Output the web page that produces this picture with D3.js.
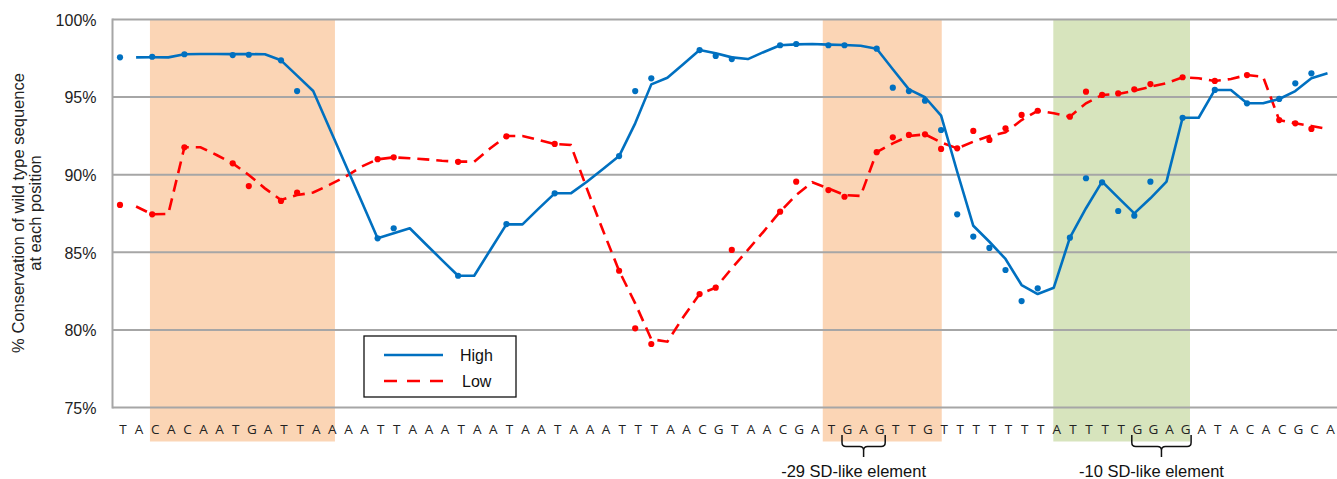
<!DOCTYPE html>
<html><head><meta charset="utf-8">
<script src="https://cdn.jsdelivr.net/npm/d3@7"></script>
<style>body{margin:0;background:#fff;} svg{display:block;}</style>
</head><body>
<svg id="chart" width="1337" height="479"></svg>
<script>
// ---------- DATA ----------
const bases = ["T","A","C","A","C","A","A","T","G","A","T","T","A","A",
  "A","A","T","T","A","A","A","T","A","A","T",
  "A","A","T","A","A","A","T","T","T","A","A","C","G","T","A","A","C","G","A","T","G","A","G","T","T",
  "G","T","T","T","T","T","T","T","A","T","T","T","T","G","G","A","G","A","T","A","C","A","C","G","C","A"];

const yTicks = [75, 80, 85, 90, 95, 100];

// smoothed lines (value at each base position, null = no line)
const highLine = [null,97.56,97.57,97.56,97.76,97.78,97.78,97.77,97.77,97.76,97.37,96.38,95.39,93.02,90.66,88.29,
  85.90,86.22,86.55,85.52,84.50,83.49,83.49,85.15,86.80,86.80,87.81,88.80,88.80,89.55,90.37,91.20,93.31,95.82,
  96.25,97.13,98.03,97.82,97.56,97.45,97.91,98.34,98.40,98.42,98.38,98.36,98.31,98.12,96.79,95.50,94.99,93.80,
  90.19,86.71,85.68,84.57,82.89,82.31,82.72,85.94,87.84,89.55,88.52,87.51,88.48,89.55,93.67,93.67,95.46,95.46,
  94.60,94.60,94.88,95.39,96.21,96.53];
const lowLine = [null,87.95,87.45,87.47,91.77,91.77,91.27,90.73,89.98,89.12,88.37,88.69,88.85,89.34,89.87,90.52,
  90.99,91.12,91.06,90.99,90.90,90.84,90.84,91.70,92.49,92.49,92.24,91.98,91.91,89.10,86.40,83.81,81.71,79.40,
  79.24,80.85,82.31,82.72,83.97,85.15,86.37,87.62,88.69,89.51,89.12,88.69,88.63,91.45,92.02,92.49,92.60,92.08,
  91.70,92.13,92.49,92.73,93.52,94.12,93.96,93.74,94.60,95.14,95.20,95.41,95.67,95.89,96.28,96.21,96.04,96.17,
  96.42,96.31,93.52,93.31,93.14,92.95];

// measured points (base index, value)
const dotIndex = [0,2,4,7,8,10,11,16,17,21,24,27,31,32,33,36,37,38,41,42,44,45,47,48,49,50,51,52,53,54,55,56,57,
  59,60,61,62,63,64,66,68,70,72,73,74];
const highDots = [97.56,97.60,97.76,97.71,97.73,97.37,95.39,85.90,86.55,83.49,86.82,88.80,91.20,95.39,96.21,98.03,
  97.65,97.45,98.34,98.42,98.34,98.34,98.12,95.61,95.39,94.77,92.88,87.45,86.01,85.28,83.86,81.86,82.68,
  85.94,89.77,89.51,87.66,87.36,89.55,93.67,95.46,94.60,94.88,95.89,96.53];
const lowDots = [88.05,87.45,91.77,90.73,89.27,88.31,88.84,91.00,91.12,90.83,92.47,91.98,83.81,80.10,79.09,82.31,
  82.72,85.15,87.62,89.55,89.01,88.58,91.45,92.41,92.56,92.60,91.66,91.70,92.82,92.24,92.99,93.85,94.12,
  93.74,95.35,95.14,95.24,95.50,95.84,96.28,96.04,96.42,93.52,93.31,92.95];

// highlighted regions in base-index units
const regionNames = ["orange", "orange", "green"];
const regionFrom = [1.86, 43.65, 57.97];
const regionTo = [13.35, 51.04, 66.46];

// annotated elements
const elementLabels = ["-29 SD-like element", "-10 SD-like element"];
const elementFrom = [45, 63];
const elementTo = [47, 66];

const seriesNames = ["High", "Low"];

// ---------- DRAW ----------
const svg = d3.select("#chart");
const x = d3.scaleLinear().domain([0, bases.length - 1]).range([120, 1327.5]);
const y = d3.scaleLinear().domain([75, 100]).range([407.5, 19.5]);
const regionColor = {orange: "#fbd5b5", green: "#d7e4bd"};
const blue = "#0070c0", red = "#ff0000";
const plotLeft = 112.5, plotRight = 1337;
const labelShift = 3;

// regions
svg.append("g").selectAll("rect").data(regionNames).join("rect")
  .attr("x", (d, i) => x(regionFrom[i]))
  .attr("width", (d, i) => x(regionTo[i]) - x(regionFrom[i]))
  .attr("y", 19).attr("height", 441.5 - 19)
  .attr("fill", d => regionColor[d]);

// gridlines
svg.append("g").selectAll("line").data(yTicks).join("line")
  .attr("x1", plotLeft).attr("x2", plotRight)
  .attr("y1", d => y(d)).attr("y2", d => y(d))
  .attr("stroke", "#a6a6a6").attr("stroke-width", 2);
svg.append("line").attr("x1", plotLeft).attr("x2", plotLeft)
  .attr("y1", y(100) - 1).attr("y2", y(75) + 1)
  .attr("stroke", "#a6a6a6").attr("stroke-width", 2);

// y axis
const yAxis = svg.append("g").attr("transform", `translate(${plotLeft},0)`)
  .call(d3.axisLeft(y).tickValues(yTicks).tickFormat(d => d + "%").tickSize(0).tickPadding(16));
yAxis.select(".domain").remove();
yAxis.selectAll("text").attr("font-family", "'Liberation Sans', Arial, sans-serif")
  .attr("font-size", 16).attr("fill", "#222").attr("dy", "0.36em");

// y title
const yTitle = svg.append("text").attr("transform", "translate(0,213) rotate(-90)")
  .attr("text-anchor", "middle").attr("font-family", "'Liberation Sans', Arial, sans-serif")
  .attr("font-size", 16.5).attr("fill", "#222");
yTitle.append("tspan").attr("x", 0).attr("y", 24).text("% Conservation of wild type sequence");
yTitle.append("tspan").attr("x", 0).attr("y", 41).text("at each position");

// sequence letters
svg.append("g").selectAll("text").data(bases).join("text")
  .attr("x", (d, i) => x(i) + labelShift).attr("y", 433.5)
  .attr("text-anchor", "middle")
  .attr("font-family", "'Open Sans', sans-serif").attr("font-size", 13.5)
  .attr("fill", "#222").text(d => d);

// lines
const lineGen = d3.line().defined(d => d != null).x((d, i) => x(i)).y(d => y(d));
svg.append("path").datum(lowLine).attr("d", lineGen)
  .attr("fill", "none").attr("stroke", red).attr("stroke-width", 2.6)
  .attr("stroke-dasharray", "12,7");
svg.append("path").datum(highLine).attr("d", lineGen)
  .attr("fill", "none").attr("stroke", blue).attr("stroke-width", 2.6)
  .attr("stroke-linejoin", "round");

// dots
svg.append("g").selectAll("circle").data(lowDots).join("circle")
  .attr("cx", (d, i) => x(dotIndex[i])).attr("cy", d => y(d)).attr("r", 3.1).attr("fill", red);
svg.append("g").selectAll("circle").data(highDots).join("circle")
  .attr("cx", (d, i) => x(dotIndex[i])).attr("cy", d => y(d)).attr("r", 3.1).attr("fill", blue);

// braces & labels
function brace(x1, x2) {
  const yTop = 435, yMid = 446.5, yTip = 457, r = 4, xm = (x1 + x2) / 2;
  return `M${x1},${yTop} L${x1},${yMid - r} Q${x1},${yMid} ${x1 + r},${yMid} L${xm - r},${yMid} ` +
    `Q${xm},${yMid} ${xm},${yMid + r} L${xm},${yTip} M${xm},${yMid + r} Q${xm},${yMid} ${xm + r},${yMid} ` +
    `L${x2 - r},${yMid} Q${x2},${yMid} ${x2},${yMid - r} L${x2},${yTop}`;
}
const el = svg.append("g").selectAll("g").data(elementLabels).join("g");
el.append("path")
  .attr("d", (d, i) => brace(x(elementFrom[i]) + labelShift - 5.5, x(elementTo[i]) + labelShift + 5.5))
  .attr("fill", "none").attr("stroke", "#111").attr("stroke-width", 1.5);
el.append("text")
  .attr("x", (d, i) => (x(elementFrom[i]) + x(elementTo[i])) / 2 + labelShift - 10)
  .attr("y", 477).attr("text-anchor", "middle")
  .attr("font-family", "'Liberation Sans', Arial, sans-serif").attr("font-size", 16.5)
  .attr("fill", "#111").text(d => d);

// legend
const lg = svg.append("g").attr("transform", "translate(364,336)");
lg.append("rect").attr("width", 152).attr("height", 61).attr("fill", "#fff")
  .attr("stroke", "#111").attr("stroke-width", 1.3);
const li = lg.selectAll("g").data(seriesNames).join("g")
  .attr("transform", (d, i) => `translate(0,${19 + i * 26})`);
li.append("line").attr("x1", 20).attr("x2", 79).attr("y1", 0).attr("y2", 0)
  .attr("stroke", (d, i) => i === 0 ? blue : red).attr("stroke-width", 2.6)
  .attr("stroke-dasharray", (d, i) => i === 0 ? null : "13,10");
li.append("text").attr("x", (d, i) => i === 0 ? 96 : 98).attr("y", 0).attr("dy", "0.36em")
  .attr("font-family", "'Liberation Sans', Arial, sans-serif").attr("font-size", 16)
  .attr("fill", "#111").text(d => d);
</script>
</body></html>
